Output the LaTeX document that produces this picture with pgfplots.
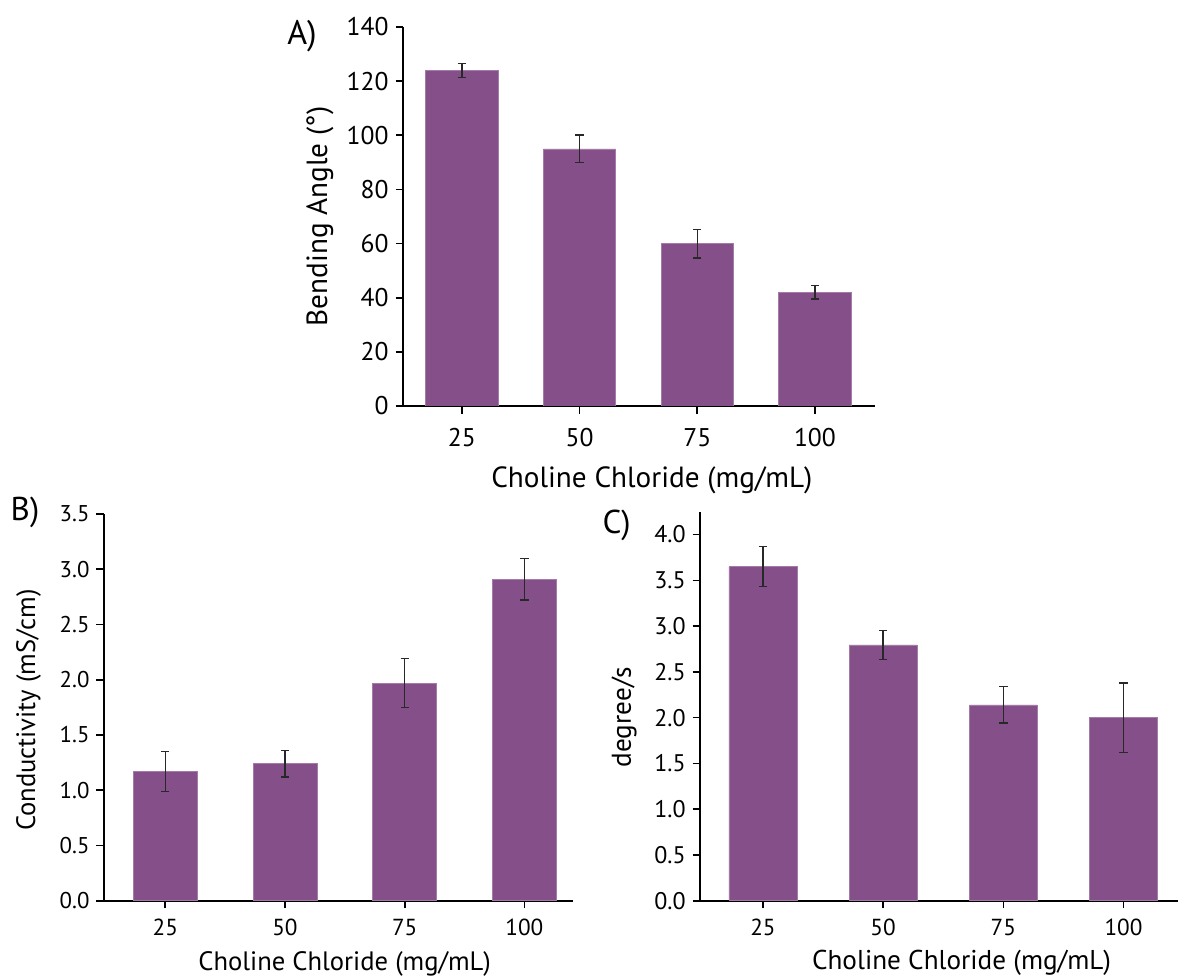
\documentclass[border=0pt]{standalone}
\usepackage{fontspec}
\setmainfont{PT Sans}
\usepackage{pgfplots}
\pgfplotsset{compat=1.18}
\definecolor{barpurple}{RGB}{133,79,138}
\definecolor{errc}{RGB}{40,40,40}
\pgfplotsset{
  mybar/.style={
    scale only axis,
    axis x line*=bottom, axis y line*=left,
    x axis line style={-, line width=1pt},
    y axis line style={-, line width=1pt},
    tick align=outside,
    major tick length=3.8pt,
    tick style={line width=0.8pt, black},
    xtick={0,1,2,3},
    xticklabels={25,50,75,100},
    ymin=0,
    /pgf/number format/assume math mode=true,
  },
  barplot/.style={
    ybar, fill=barpurple, draw=barpurple!75!white, line width=0.3pt,
    error bars/y dir=both, error bars/y explicit,
    error bars/error bar style={line width=0.7pt, errc},
    error bars/error mark options={rotate=90, mark size=2.1pt, line width=0.7pt, errc}
  },
  onedec/.style={
    /pgf/number format/fixed, /pgf/number format/fixed zerofill, /pgf/number format/precision=1
  }
}
\begin{document}
\begin{tikzpicture}
\useasboundingbox (0,0) rectangle (589pt,488pt);
% Panel A
\begin{axis}[mybar,
  at={(201.6pt,285pt)}, anchor=south west,
  width=235.9pt, height=189.5pt,
  xmin=-0.498, xmax=3.51, ymax=140,
  bar width=0.615,
  ytick={0,20,...,140},
  tick label style={font=\fontsize{12.8}{14}\selectfont},
  xticklabel style={yshift=-4pt},
  xlabel={Choline Chloride (mg/mL)},
  ylabel={Bending Angle (°)},
  every axis x label/.style={at={(rel axis cs:0.527,0)}, anchor=center, yshift=-37pt, font=\fontsize{14.6}{16}\selectfont},
  every axis y label/.style={at={(rel axis cs:0,0.5)}, rotate=90, anchor=center, yshift=41.6pt, font=\fontsize{14.6}{16}\selectfont},
]
\addplot[barplot] coordinates {(0,124) +- (0,2.6) (1,95) +- (0,5.1) (2,60) +- (0,5.3) (3,42) +- (0,2.5)};
\end{axis}
% Panel B
\begin{axis}[mybar, onedec,
  at={(52.05pt,37.65pt)}, anchor=south west,
  width=234.4pt, height=193.35pt,
  xmin=-0.511, xmax=3.405, ymax=3.5,
  bar width=0.534,
  ytick={0,0.5,...,3.5},
  yticklabel style={font=\fontsize{11.4}{13}\selectfont},
  xticklabel style={font=\fontsize{11.6}{13}\selectfont, yshift=-2pt},
  xlabel={Choline Chloride (mg/mL)},
  ylabel={Conductivity (mS/cm)},
  every axis x label/.style={at={(rel axis cs:0.513,0)}, anchor=center, yshift=-31.5pt, font=\fontsize{13.3}{15}\selectfont},
  every axis y label/.style={at={(rel axis cs:0,0.5)}, rotate=90, anchor=center, yshift=37.7pt, xshift=-1.3pt, font=\fontsize{13.3}{15}\selectfont},
]
\addplot[barplot] coordinates {(0,1.17) +- (0,0.18) (1,1.24) +- (0,0.12) (2,1.97) +- (0,0.22) (3,2.91) +- (0,0.19)};
\end{axis}
% Panel C
\begin{axis}[mybar, onedec,
  at={(350.15pt,37.65pt)}, anchor=south west,
  width=238.85pt, height=194.5pt,
  xmin=-0.521, xmax=3.453, ymax=4.25,
  bar width=0.565,
  ytick={0,0.5,...,4.0},
  yticklabel style={font=\fontsize{12}{13}\selectfont},
  xticklabel style={font=\fontsize{11.6}{13}\selectfont, yshift=-2pt},
  xlabel={Choline Chloride (mg/mL)},
  ylabel={degree/s},
  every axis x label/.style={at={(rel axis cs:0.547,0)}, anchor=center, yshift=-31pt, font=\fontsize{13.6}{15}\selectfont},
  every axis y label/.style={at={(rel axis cs:0,0.5)}, rotate=90, anchor=center, yshift=38.15pt, xshift=-5.4pt, font=\fontsize{13.6}{15}\selectfont},
]
\addplot[barplot] coordinates {(0,3.65) +- (0,0.22) (1,2.795) +- (0,0.16) (2,2.14) +- (0,0.2) (3,2.0) +- (0,0.38)};
\end{axis}
\node[font=\fontsize{17}{19}\selectfont] at (151pt,470pt) {A)};
\node[font=\fontsize{16.5}{18}\selectfont] at (12.5pt,232pt) {B)};
\node[font=\fontsize{16.5}{18}\selectfont] at (308.3pt,225.5pt) {C)};
\end{tikzpicture}
\end{document}
